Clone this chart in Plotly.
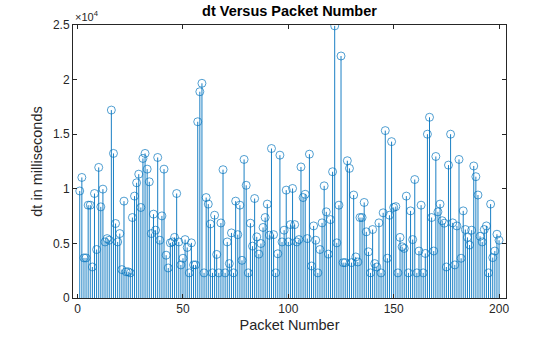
import plotly.graph_objects as go

packet_number = list(range(1, 201))
dt_ms = [
    9800, 11040, 3670, 3670, 8500, 8500, 2840, 9570, 4440, 11960,
    8345, 9970, 5135, 5440, 5290, 17210, 13240, 6820, 5135, 5900,
    2600, 8870, 2400, 2400, 2300, 7370, 9330, 10550, 11340, 8290,
    12780, 13240, 11800, 10640, 5900, 7680, 6210, 12870, 5290, 7520,
    11800, 3920, 2750, 5050, 5135, 5550, 9570, 5135, 3030, 3640,
    5350, 4630, 2300, 5050, 3030, 3030, 16140, 18890, 19660, 2300,
    9200, 8600, 6780, 2300, 7580, 3990, 2300, 6870, 11750, 2300,
    5135, 3150, 5960, 2300, 8870, 5800, 8500, 3450, 12690, 10320,
    2300, 6850, 4750, 9110, 5600, 4020, 4990, 6460, 7370, 8600,
    5750, 13690, 5800, 2300, 4050, 13080, 5135, 6210, 9880, 5135,
    6720, 10030, 6720, 5135, 5350, 12000, 9200, 9500, 5440, 13170,
    2930, 6600, 5290, 2300, 4440, 6880, 10270, 7890, 4020, 7180,
    11560, 24920, 5050, 8500, 22160, 3240, 3240, 12570, 11870, 3240,
    9430, 3760, 3300, 7370, 7370, 8750, 6060, 4230, 2300, 6270,
    3150, 2840, 6880, 2300, 7800, 15330, 3640, 7580, 14320, 8290,
    8370, 2300, 5550, 4690, 4540, 9330, 2300, 7980, 5350, 10850,
    2300, 4300, 8500, 2300, 4080, 15000, 16550, 7370, 4300, 12960,
    7890, 8600, 7080, 6850, 2840, 12170, 15000, 6880, 3030, 6600,
    12690, 3640, 7980, 6270, 5550, 4850, 6210, 12090, 11110, 9430,
    5650, 5135, 6270, 6600, 2300, 8600, 3700, 4300, 5840, 5290,
]

x_ticks = [0, 50, 100, 150, 200]
y_ticks = [0, 5000, 10000, 15000, 20000, 25000]
y_tick_labels = ["0", "0.5", "1", "1.5", "2", "2.5"]

title_text = "dt Versus Packet Number"
x_label = "Packet Number"
y_label = "dt in milliseconds"

color = "#0072BD"
axis_color = "#262626"
font_family = "Liberation Sans, Arial, sans-serif"

stem_x, stem_y = [], []
for xv, yv in zip(packet_number, dt_ms):
    stem_x += [xv, xv, None]
    stem_y += [0, yv, None]

fig = go.Figure()
fig.add_trace(go.Scatter(x=stem_x, y=stem_y, mode="lines",
                         line=dict(color=color, width=0.9), hoverinfo="skip",
                         showlegend=False))
fig.add_trace(go.Scatter(x=packet_number, y=dt_ms, mode="markers",
                         marker=dict(symbol="circle-open", size=8,
                                     color=color, opacity=0.85,
                                     line=dict(width=0.8, color=color)),
                         showlegend=False))

axis_common = dict(
    showgrid=False, zeroline=False, showline=True, linecolor=axis_color,
    linewidth=1, mirror="ticks", ticks="inside", ticklen=4, tickcolor=axis_color,
    automargin=False,
    tickfont=dict(family=font_family, size=12, color=axis_color),
)

fig.update_layout(
    width=560, height=337,
    margin=dict(l=73, r=54, t=25, b=39),
    paper_bgcolor="white", plot_bgcolor="white",
    title=dict(text="<b>" + title_text + "</b>", x=(73 + 506) / 2 / 560, xanchor="center",
               y=1 - 11 / 337, yanchor="middle", automargin=False,
               font=dict(family=font_family, size=14.5, color="black")),
    xaxis=dict(range=[-2.2, 203.3], tickvals=x_ticks,
               ticktext=[str(v) for v in x_ticks],
               title=dict(text=x_label, standoff=4,
                          font=dict(family=font_family, size=14.5, color=axis_color)),
               **axis_common),
    yaxis=dict(range=[0, 25000], tickvals=y_ticks, ticktext=y_tick_labels,
               title=dict(text=y_label, standoff=6,
                          font=dict(family=font_family, size=14.5, color=axis_color)),
               **axis_common),
    annotations=[dict(text="×10<sup>4</sup>", xref="paper", yref="paper",
                      x=0, y=1, xanchor="left", yanchor="bottom", yshift=0,
                      showarrow=False,
                      font=dict(family=font_family, size=11, color=axis_color))],
)

fig.write_html("out.html")
